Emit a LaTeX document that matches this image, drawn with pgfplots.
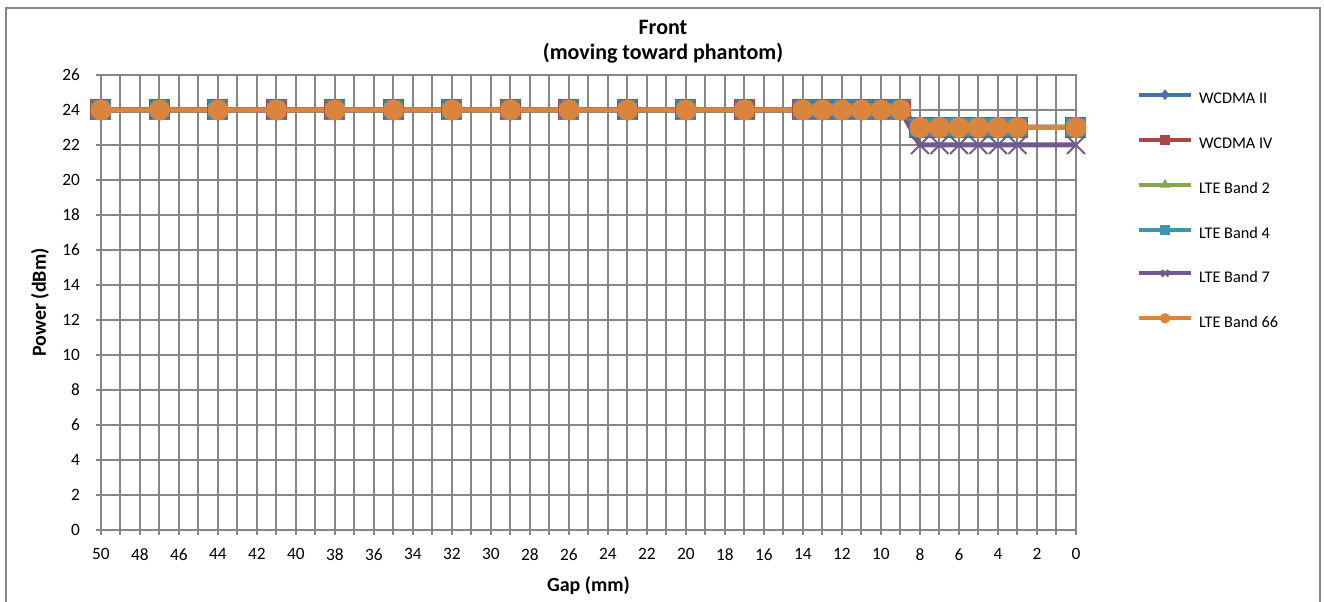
\documentclass[border=0pt]{standalone}
\usepackage{pgfplots}
\pgfplotsset{compat=1.18}
\usepackage{fontspec}
\setmainfont{Carlito}
\definecolor{gridgray}{RGB}{134,134,134}
\definecolor{wblue}{RGB}{69,114,167}
\definecolor{wred}{RGB}{170,70,67}
\definecolor{lgreen}{RGB}{137,165,78}
\definecolor{lteal}{RGB}{61,150,174}
\definecolor{lpurple}{RGB}{113,88,143}
\definecolor{lorange}{RGB}{219,132,61}

\pgfplotstableread{
gap  w2  w4  b2  b4  b7  b66
50   24  24  24  24  24  24
47   24  24  24  24  24  24
44   24  24  24  24  24  24
41   24  24  24  24  24  24
38   24  24  24  24  24  24
35   24  24  24  24  24  24
32   24  24  24  24  24  24
29   24  24  24  24  24  24
26   24  24  24  24  24  24
23   24  24  24  24  24  24
20   24  24  24  24  24  24
17   24  24  24  24  24  24
14   24  24  24  24  24  24
13   24  24  24  24  24  24
12   24  24  24  24  24  24
11   24  24  24  24  24  24
10   24  24  24  24  24  24
9    24  24  24  24  24  24
8    23  23  23  23  22  23
7    23  23  23  23  22  23
6    23  23  23  23  22  23
5    23  23  23  23  22  23
4    23  23  23  23  22  23
3    23  23  23  23  22  23
0    23  23  23  23  22  23
}\datatable

\begin{document}
\begin{tikzpicture}
\useasboundingbox (0,0) rectangle (993pt,451.5pt);
\draw[gridgray, line width=1.5pt] (4.5pt,-2pt) -- (4.5pt,445.5pt) -- (990pt,445.5pt) -- (990pt,-2pt);
\begin{axis}[
  at={(75.75pt,54pt)}, anchor=south west,
  scale only axis, width=731.25pt, height=341.25pt,
  x dir=reverse, xmin=0, xmax=50, ymin=0, ymax=26,
  xtick={0,2,...,50}, minor xtick={1,3,...,49}, ytick={0,2,...,26},
  xmajorgrids, xminorgrids, ymajorgrids,
  major grid style={gridgray, line width=1.5pt},
  minor grid style={gridgray, line width=1.5pt},
  axis line style={gridgray, line width=1.5pt},
  tick style={gridgray, line width=1.5pt},
  tick align=outside, major tick length=3.75pt, minor tick length=3.75pt,
  xtick pos=bottom, ytick pos=left,
  ticklabel style={font=\fontsize{13}{15}\selectfont, text=black},
  /pgf/number format/assume math mode=true,
  yticklabel style={xshift=-8.5pt},
  xticklabel style={yshift=-6.5pt},
  clip=false,
  title={Front\\(moving toward phantom)},
  title style={font=\bfseries\fontsize{16.5}{18.75}\selectfont, align=center, at={(axis description cs:0.5764,1.077)}, anchor=center, yshift=-7.5pt},
  ylabel={Power (dBm)},
  ylabel style={font=\bfseries\fontsize{15}{17}\selectfont, at={(axis description cs:-0.0626,0.5)}, anchor=center},
  xlabel={Gap (mm)},
  xlabel style={font=\bfseries\fontsize{15}{17}\selectfont, at={(axis description cs:0.5,-0.123)}, anchor=center},
  legend image code/.code={\draw[mark repeat=2,mark phase=2,#1] plot coordinates {(0pt,3.75pt) (19.5pt,3.75pt) (39pt,3.75pt)};},
  legend image post style={mark size=3.5pt, line width=3pt},
  legend cell align=left,
  legend style={draw=none, fill=none, inner sep=0pt, outer sep=0pt,
    at={(axis description cs:1.0626,0.967)}, anchor=north west,
    font=\fontsize{12.2}{14}\selectfont, row sep=21.5pt,
    nodes={inner sep=0pt, text height=8pt, text depth=2pt},
    /tikz/every odd column/.append style={column sep=4.5pt}},
]
\addplot[color=wblue, line width=3.75pt, mark=diamond*, mark size=8pt, mark options={solid, fill=wblue, line width=0.75pt}] table[x=gap,y=w2]{\datatable};
\addlegendentry{WCDMA II}
\addplot[color=wred, line width=3.75pt, mark=square*, mark size=7.5pt, mark options={solid, fill=wred, line width=0.75pt}] table[x=gap,y=w4]{\datatable};
\addlegendentry{WCDMA IV}
\addplot[color=lgreen, line width=3.75pt, mark=triangle*, mark size=8pt, mark options={solid, fill=lgreen, line width=0.75pt}] table[x=gap,y=b2]{\datatable};
\addlegendentry{LTE Band 2}
\addplot[color=lteal, line width=3.75pt, mark=square*, mark size=7pt, mark options={solid, fill=lteal, line width=0.75pt}] table[x=gap,y=b4]{\datatable};
\addlegendentry{LTE Band 4}
\addplot[color=lpurple, line width=3.75pt, mark=x, mark size=9.5pt, mark options={solid, line width=1.5pt}] table[x=gap,y=b7]{\datatable};
\addlegendentry{LTE Band 7}
\addplot[color=lorange, line width=3.75pt, mark=*, mark size=7.5pt, mark options={solid, fill=lorange, line width=0.75pt}] table[x=gap,y=b66]{\datatable};
\addlegendentry{LTE Band 66}
\end{axis}
\end{tikzpicture}
\end{document}
